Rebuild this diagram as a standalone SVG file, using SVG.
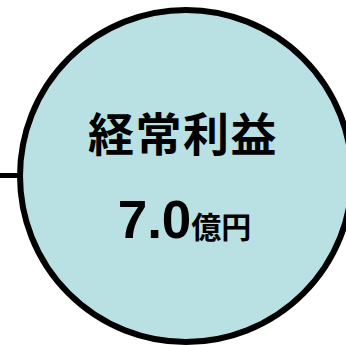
<svg xmlns="http://www.w3.org/2000/svg" width="346" height="345" viewBox="0 0 346 345">
<style>
.conn{stroke:#000;stroke-width:5;fill:none}
.node{fill:#b9e0e3;stroke:#000;stroke-width:6}
.jp{font-family:"Noto Sans CJK JP","Noto Sans CJK SC",sans-serif;font-weight:bold;fill:#000}
.num{font-family:"Liberation Sans",Arial,sans-serif;font-weight:bold;fill:#000}
</style>
<rect width="346" height="345" fill="#fff"/>
<g id="connectors">
<line class="conn" x1="0" y1="175.5" x2="20" y2="175.5"/>
</g>
<g id="node-keijo">
<circle class="node" cx="186" cy="176" r="166"/>
<text class="jp" x="183" y="151" font-size="46" letter-spacing="1.5" text-anchor="middle">経常利益</text>
<text x="184.5" y="238" text-anchor="middle"><tspan class="num" font-size="53">7.0</tspan><tspan class="jp" font-size="30">億円</tspan></text>
</g>
</svg>
